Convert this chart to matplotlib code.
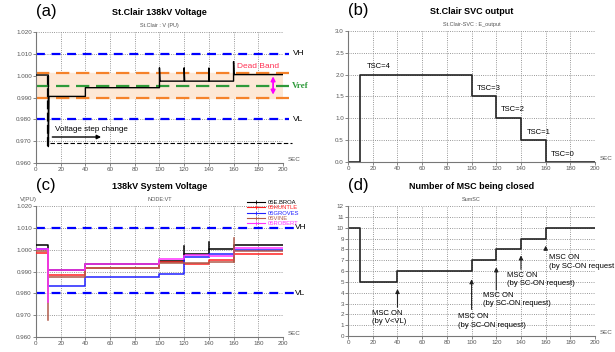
import matplotlib.pyplot as plt
from matplotlib.lines import Line2D
from matplotlib.ticker import FormatStrFormatter, MultipleLocator

plt.rcParams['font.family'] = ['Liberation Sans', 'DejaVu Sans']

# (a) St.Clair 138kV voltage, PU
a_time = [0, 10, 10, 10.5, 40, 40, 100, 100, 100.4, 120, 120, 120.4,
          140, 140, 140.4, 160, 160, 160.4, 200]
a_volt = [1.0003, 1.0003, 0.9675, 0.9905, 0.9905, 0.9945, 0.9945, 1.0036, 0.9975,
          0.9975, 1.0036, 0.9975, 0.9975, 1.0035, 0.9975, 0.9975, 1.0064, 1.0005, 1.0005]
a_vh, a_vl = 1.010, 0.980
a_band_hi, a_band_lo, a_vref = 1.001, 0.990, 0.9955

# (b) St.Clair SVC output
b_time = [0, 10, 100, 120, 140, 160, 200]
b_out = [0.0, 2.0, 1.5, 1.0, 0.5, 0.0, 0.0]
b_labels = ["TSC=4", "TSC=3", "TSC=2", "TSC=1", "TSC=0"]
b_label_x = [15, 104, 124, 145, 164]
b_label_y = [2.18, 1.69, 1.21, 0.68, 0.18]

# (c) 138kV system voltage, step levels per bus
c_time = [0, 10, 40, 100, 120, 140, 160, 200]
c_names = ["05E.BROA", "05HUNTLE", "05GROVES", "05VINE", "05ROBERT"]
c_colors = ["black", "#ff2020", "#2020ff", "#b05a4a", "#ff30ff"]
c_broa = [1.0021, 0.9905, 0.9934, 0.9948, 0.9982, 1.0002, 1.0021, 1.0021]
c_huntle = [0.9983, 0.9886, 0.9914, 0.9943, 0.9933, 0.9953, 0.9982, 0.9982]
c_groves = [1.0003, 0.9834, 0.9875, 0.9889, 0.9968, 0.9980, 1.0000, 1.0000]
c_vine = [0.9995, 0.9873, 0.9915, 0.9938, 0.9940, 0.9944, 0.9996, 0.9996]
c_robert = [1.0005, 0.9906, 0.9935, 0.9956, 0.9975, 0.9970, 1.0006, 1.0006]
c_series = [c_broa, c_huntle, c_groves, c_vine, c_robert]
# short spikes at switching instants: (series index, time, low, high)
c_spike_idx = [3, 4, 0, 0, 3]
c_spike_t = [10, 10, 120, 140, 160]
c_spike_lo = [0.968, 0.976, 0.9982, 1.0002, 0.9944]
c_spike_hi = [0.9995, 1.0005, 1.0015, 1.0035, 1.0055]

# (d) number of MSC closed
d_time = [0, 10, 40, 100, 120, 140, 160, 200]
d_count = [10, 5, 6, 7, 8, 9, 10, 10]
d_arrow_x = [40, 100, 120, 140, 160]
d_arrow_tail = [2.4, 2.2, 4.0, 5.9, 7.7]
d_arrow_head = [4.6, 5.5, 6.6, 7.7, 8.6]
d_text = ["MSC ON\n(by V<VL)", "MSC ON\n(by SC-ON request)", "MSC ON\n(by SC-ON request)",
          "MSC ON\n(by SC-ON request)", "MSC ON\n(by SC-ON request"]
d_text_x = [19, 89, 109, 129, 163]
d_text_y = [1.7, 1.4, 3.35, 5.2, 6.85]


def style(ax, ylo, yhi, ystep, fmt):
    ax.set_xlim(0, 200)
    ax.set_ylim(ylo, yhi)
    ax.xaxis.set_major_locator(MultipleLocator(20))
    ax.yaxis.set_major_locator(MultipleLocator(ystep))
    ax.yaxis.set_major_formatter(FormatStrFormatter(fmt))
    ax.grid(True, ls=':', color='#777777', lw=0.6)
    ax.set_axisbelow(True)
    for s in ['top', 'right']:
        ax.spines[s].set_visible(False)
    for s in ['left', 'bottom']:
        ax.spines[s].set_color('#777777')
        ax.spines[s].set_linewidth(0.8)
    ax.tick_params(labelsize=4.5, colors='#555555', length=2, width=0.5, pad=1)
    ax.text(1.02, 0.01, 'SEC', transform=ax.transAxes, fontsize=4.5, color='#555555', va='bottom')


def titles(ax, label, title, sub):
    ax.text(0.04, 1.155, label, transform=ax.transAxes, fontsize=12, ha='center', va='center')
    ax.text(0.5, 1.15, title, transform=ax.transAxes, fontsize=6.5, fontweight='bold',
            ha='center', va='center')
    ax.text(0.5, 1.05, sub, transform=ax.transAxes, fontsize=4, color='#555555',
            ha='center', va='center')


fig = plt.figure(figsize=(6.15, 3.52), dpi=100)
ax_a = fig.add_axes([0.0585, 0.537, 0.4016, 0.372])
ax_b = fig.add_axes([0.566, 0.540, 0.4016, 0.372])
ax_c = fig.add_axes([0.0585, 0.0426, 0.4016, 0.372])
ax_d = fig.add_axes([0.566, 0.0455, 0.4016, 0.369])

# ---- (a)
style(ax_a, 0.960, 1.020, 0.010, '%.3f')
titles(ax_a, '(a)', 'St.Clair 138kV Voltage', 'St.Clair : V (PU)')
ax_a.axhspan(a_band_lo, a_band_hi, color='#fde8d6', zorder=1)
for v in [a_band_hi, a_band_lo]:
    ax_a.plot([0, 205], [v, v], color='#f5822a', lw=1.6, dashes=(6, 3), clip_on=False, zorder=2)
ax_a.plot([0, 205], [a_vref, a_vref], color='#2e9a3a', lw=1.6, dashes=(6, 3), clip_on=False, zorder=2)
for v in [a_vh, a_vl]:
    ax_a.plot([0, 205], [v, v], color='#0000ff', lw=1.6, dashes=(4, 3), clip_on=False, zorder=2)
ax_a.plot(a_time, a_volt, color='black', lw=1.0, zorder=4)
ax_a.plot([10, 10], [1.0, 0.9675], color='black', lw=1.6, dashes=(4, 1.5), zorder=4)
ax_a.plot([11.5, 207], [0.9692, 0.9692], color='black', lw=0.8, dashes=(4, 2), clip_on=False)
ax_a.annotate('', xy=(55, 0.9719), xytext=(11, 0.9719),
              arrowprops=dict(arrowstyle='-|>', color='black', lw=1.0, mutation_scale=6))
ax_a.text(15, 0.9755, 'Voltage step change', fontsize=5.8, va='center')
ax_a.annotate('', xy=(192, a_band_lo), xytext=(192, a_band_hi),
              arrowprops=dict(arrowstyle='<|-|>', color='#ff00ff', lw=1.3, mutation_scale=6))
ax_a.text(163, 1.0044, 'Dead Band', fontsize=6, color='#ff3355', va='center')
ax_a.text(208, a_vh, 'VH', fontsize=6, va='center')
ax_a.text(208, a_vl, 'VL', fontsize=6, va='center')
ax_a.text(207, a_vref, 'Vref', fontsize=6.5, va='center', color='#2e9a3a',
          fontweight='bold', family=['Liberation Serif', 'DejaVu Serif'])

# ---- (b)
style(ax_b, 0.0, 3.0, 0.5, '%.1f')
titles(ax_b, '(b)', 'St.Clair SVC output', 'St.Clair-SVC : E_output')
ax_b.step(b_time, b_out, where='post', color='#222222', lw=1.2)
for x, y, s in zip(b_label_x, b_label_y, b_labels):
    ax_b.text(x, y, s, fontsize=5.5, va='center')

# ---- (c)
style(ax_c, 0.960, 1.020, 0.010, '%.3f')
titles(ax_c, '(c)', '138kV System Voltage', 'NODE:VT')
ax_c.text(-0.065, 1.053, 'V(PU)', transform=ax_c.transAxes, fontsize=4.5, color='#555555', va='center')
for v in [a_vh, a_vl]:
    ax_c.plot([0, 209], [v, v], color='#0000ff', lw=1.6, dashes=(4, 3), clip_on=False, zorder=2)
ax_c.text(210, a_vh, 'VH', fontsize=6, va='center')
ax_c.text(210, a_vl, 'VL', fontsize=6, va='center')
for vals, col in zip(c_series, c_colors):
    ax_c.step(c_time, vals, where='post', color=col, lw=1.1, zorder=3)
for i, t, lo, hi in zip(c_spike_idx, c_spike_t, c_spike_lo, c_spike_hi):
    ax_c.plot([t, t], [lo, hi], color=c_colors[i], lw=1.1, zorder=3)
handles = [Line2D([], [], color=col, lw=0.8, marker='|', markersize=3, markeredgewidth=0.6)
           for col in c_colors]
ax_c.legend(handles, c_names, loc='upper right', bbox_to_anchor=(1.08, 1.075), fontsize=4.2,
            frameon=False, handlelength=3.2, handletextpad=0.4, labelspacing=0.05,
            borderpad=0.1, labelcolor=c_colors)

# ---- (d)
style(ax_d, 0, 12, 1, '%d')
titles(ax_d, '(d)', 'Number of MSC being closed', 'SumSC')
ax_d.step(d_time, d_count, where='post', color='#222222', lw=1.2)
for x, t0, t1 in zip(d_arrow_x, d_arrow_tail, d_arrow_head):
    ax_d.annotate('', xy=(x, t1), xytext=(x, t0),
                  arrowprops=dict(arrowstyle='-|>', color='#222222', lw=0.8, mutation_scale=6))
for x, y, s in zip(d_text_x, d_text_y, d_text):
    ax_d.text(x, y, s, fontsize=5.5, va='center', linespacing=1.3)

fig.savefig('out.png', dpi=100)
